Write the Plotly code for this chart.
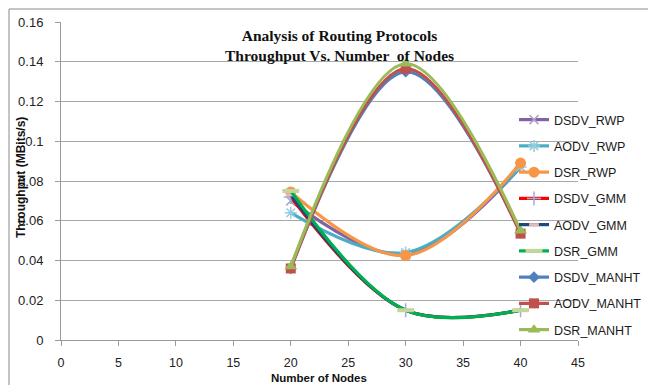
import plotly.graph_objects as go

nodes = [20, 30, 40]
series_names = ["DSDV_RWP", "AODV_RWP", "DSR_RWP", "DSDV_GMM", "AODV_GMM",
                "DSR_GMM", "DSDV_MANHT", "AODV_MANHT", "DSR_MANHT"]
dsdv_rwp = [0.070, 0.043, 0.087]
aodv_rwp = [0.064, 0.044, 0.087]
dsr_rwp = [0.0745, 0.0425, 0.089]
dsdv_gmm = [0.072, 0.015, 0.015]
aodv_gmm = [0.073, 0.015, 0.015]
dsr_gmm = [0.075, 0.015, 0.015]
dsdv_manht = [0.036, 0.135, 0.054]
aodv_manht = [0.036, 0.1365, 0.0535]
dsr_manht = [0.037, 0.139, 0.055]
values = [dsdv_rwp, aodv_rwp, dsr_rwp, dsdv_gmm, aodv_gmm, dsr_gmm,
          dsdv_manht, aodv_manht, dsr_manht]
x_ticks = [0, 5, 10, 15, 20, 25, 30, 35, 40, 45]
y_ticks = [0, 0.02, 0.04, 0.06, 0.08, 0.1, 0.12, 0.14, 0.16]

styles = [
    dict(line="#8064A2", msym="x-thin-open", mcol="#B3A2C7", msize=9, mw=1.5),
    dict(line="#4BACC6", msym="asterisk-open", mcol="#93CDDD", msize=10, mw=1.5),
    dict(line="#F79646", msym="circle", mcol="#F79646", msize=11, mw=0),
    dict(line="#FF0000", msym="cross-thin-open", mcol="#95B3D7", msize=10, mw=1.5),
    dict(line="#1F497D", msym="line-ew-open", mcol="#E6B9B8", msize=7, mw=3),
    dict(line="#00B050", msym="line-ew-open", mcol="#C3D69B", msize=12, mw=4),
    dict(line="#4F81BD", msym="diamond", mcol="#4F81BD", msize=9, mw=0),
    dict(line="#C0504D", msym="square", mcol="#C0504D", msize=10, mw=0),
    dict(line="#9BBB59", msym="triangle-up", mcol="#9BBB59", msize=11, mw=0),
]

W, H = 656, 385
OFF = 8  # page body margin offset
L, R, T, B = 61, 578, 22, 340


def px(x):
    return (x - L) / (R - L)


def py(y):
    return (B - y) / (B - T)


fig = go.Figure()
for i, (name, vals, st) in enumerate(zip(series_names, values, styles)):
    fig.add_trace(go.Scatter(
        x=nodes, y=vals, name=name, mode="lines+markers",
        line=dict(color=st["line"], width=3.2, shape="spline", smoothing=1.0),
        marker=dict(symbol=st["msym"], color=st["mcol"], size=st["msize"],
                    line=dict(color=st["mcol"], width=st["mw"])),
        legendgroup=f"g{i}",
    ))

fig.update_layout(
    width=W, height=H,
    margin=dict(l=L - OFF, r=W - (R - OFF), t=T - OFF, b=H - (B - OFF), autoexpand=False),
    paper_bgcolor="white", plot_bgcolor="white",
    showlegend=True,
    legend=dict(x=px(514), y=py(105), xanchor="left", yanchor="top",
                bgcolor="rgba(0,0,0,0)", traceorder="grouped", tracegroupgap=7,
                font=dict(family="Liberation Sans", size=12.5, color="#1a1a1a")),
    xaxis=dict(range=[0, 45], tickvals=x_ticks, showgrid=False, zeroline=False,
               showline=True, linecolor="#9a9a9a", linewidth=1,
               ticks="outside", ticklen=5, tickcolor="#9a9a9a",
               ticklabelstandoff=6,
               tickfont=dict(family="Liberation Sans", size=12.5, color="#222")),
    yaxis=dict(range=[0, 0.16], tickvals=y_ticks, showgrid=True, gridcolor="#a8a8a8",
               gridwidth=1, zeroline=False, showline=True, linecolor="#9a9a9a",
               linewidth=1, ticks="outside", ticklen=5, tickcolor="#9a9a9a",
               ticklabelstandoff=9,
               tickfont=dict(family="Liberation Sans", size=13, color="#222")),
    shapes=[dict(type="rect", xref="paper", yref="paper",
                 x0=px(9), x1=px(700), y0=py(9), y1=py(420),
                 line=dict(color="#8a8a8a", width=1), layer="below")],
    annotations=[
        dict(text="<b>Analysis of Routing Protocols<br>Throughput Vs. Number  of Nodes</b>",
             xref="paper", yref="paper", x=px(339), y=py(46), showarrow=False,
             xanchor="center", yanchor="middle",
             font=dict(family="Liberation Serif", size=15.5, color="#111")),
        dict(text="<b>Throughput (MBits/s)</b>", xref="paper", yref="paper",
             x=px(21), y=py(178), textangle=-90, showarrow=False,
             xanchor="center", yanchor="middle",
             font=dict(family="Liberation Sans", size=12, color="#111")),
        dict(text="<b>Number of Nodes</b>", xref="paper", yref="paper",
             x=px(319), y=py(386), showarrow=False, xanchor="center", yanchor="bottom",
             font=dict(family="Liberation Sans", size=11.5, color="#111")),
    ],
)

fig.write_html("out.html")
